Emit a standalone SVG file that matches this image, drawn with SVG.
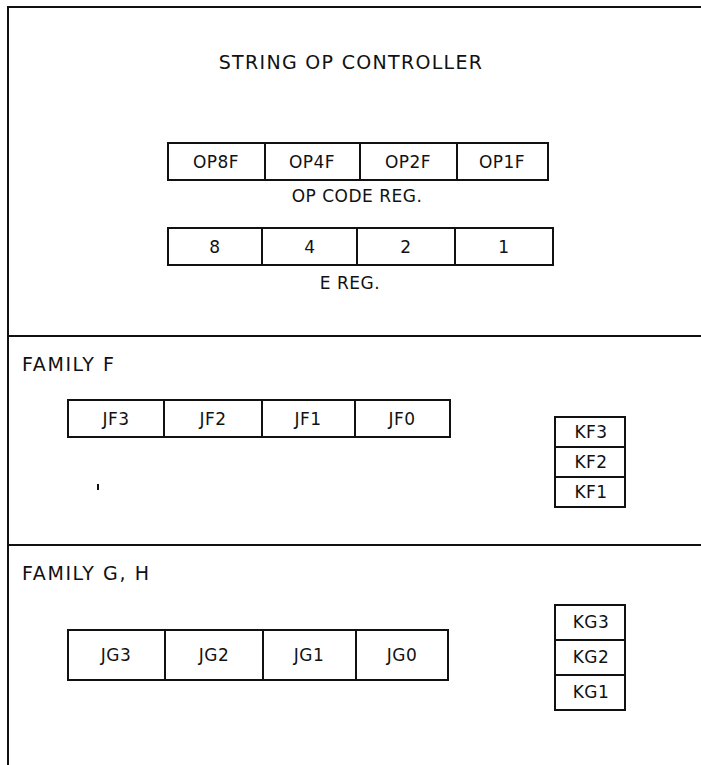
<svg xmlns="http://www.w3.org/2000/svg" width="701" height="765" viewBox="0 0 701 765">
<style>
.ln{stroke:#111;stroke-width:2;fill:none}
.bx{stroke:#111;stroke-width:2;fill:#fff}
.t{font-family:"DejaVu Sans","Liberation Sans",sans-serif;font-size:17px;fill:#111;text-anchor:middle;dominant-baseline:central;letter-spacing:0.5px}
.big{font-size:19px;letter-spacing:1.3px}
.tl{font-family:"DejaVu Sans","Liberation Sans",sans-serif;font-size:19px;fill:#111;dominant-baseline:central;letter-spacing:1.6px}
</style>
<rect width="701" height="765" fill="#fff"/>
<g id="frame">
<path class="ln" d="M8,765 V7 H701"/>
<path class="ln" d="M8,336 H701"/>
<path class="ln" d="M8,545 H701"/>
</g>
<g id="title"><text class="t big" x="351" y="62">STRING OP CONTROLLER</text></g>
<g id="opcode-reg">
<rect class="bx" x="168" y="143" width="380" height="37"/>
<path class="ln" d="M265,143V180M360,143V180M457,143V180"/>
<text class="t" x="216" y="162">OP8F</text>
<text class="t" x="312" y="162">OP4F</text>
<text class="t" x="408" y="162">OP2F</text>
<text class="t" x="502" y="162">OP1F</text>
<text class="t" x="357" y="196">OP CODE REG.</text>
</g>
<g id="e-reg">
<rect class="bx" x="168" y="228" width="385" height="37"/>
<path class="ln" d="M262,228V265M357,228V265M455,228V265"/>
<text class="t" x="215" y="247">8</text>
<text class="t" x="310" y="247">4</text>
<text class="t" x="406" y="247">2</text>
<text class="t" x="504" y="247">1</text>
<text class="t" x="350" y="283">E REG.</text>
</g>
<g id="family-f">
<text class="tl" x="22" y="364">FAMILY F</text>
<rect class="bx" x="68" y="400" width="382" height="37"/>
<path class="ln" d="M164,400V437M262,400V437M355,400V437"/>
<text class="t" x="116" y="419">JF3</text>
<text class="t" x="213" y="419">JF2</text>
<text class="t" x="308" y="419">JF1</text>
<text class="t" x="402" y="419">JF0</text>
<path class="ln" d="M98,484V490"/>
</g>
<g id="kf">
<rect class="bx" x="555" y="417" width="70" height="90"/>
<path class="ln" d="M555,447H625M555,477H625"/>
<text class="t" x="591" y="432">KF3</text>
<text class="t" x="591" y="462">KF2</text>
<text class="t" x="591" y="492">KF1</text>
</g>
<g id="family-gh">
<text class="tl" x="22" y="573">FAMILY G, H</text>
<rect class="bx" x="68" y="630" width="380" height="50"/>
<path class="ln" d="M165,630V680M263,630V680M356,630V680"/>
<text class="t" x="116" y="655">JG3</text>
<text class="t" x="214" y="655">JG2</text>
<text class="t" x="309" y="655">JG1</text>
<text class="t" x="402" y="655">JG0</text>
</g>
<g id="kg">
<rect class="bx" x="555" y="605" width="70" height="105"/>
<path class="ln" d="M555,640H625M555,675H625"/>
<text class="t" x="591" y="622">KG3</text>
<text class="t" x="591" y="657">KG2</text>
<text class="t" x="591" y="692">KG1</text>
</g>
<g id="connectors"></g>
</svg>
